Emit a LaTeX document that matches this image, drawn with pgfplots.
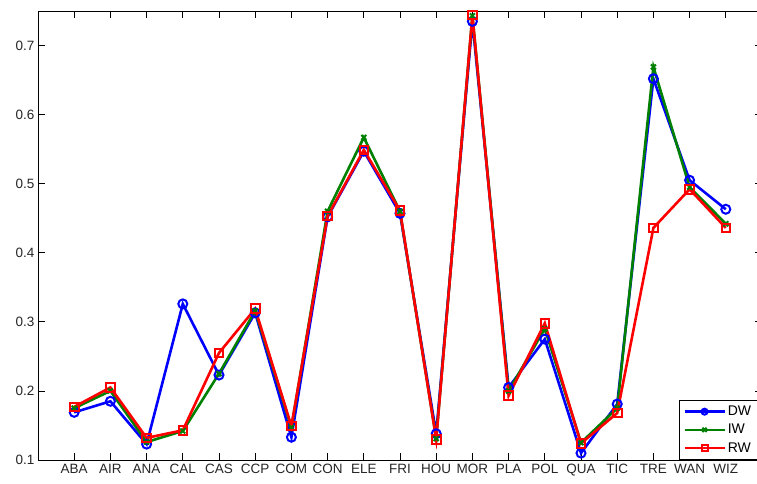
\documentclass[border=0pt]{standalone}
\usepackage{fontspec}
\setmainfont{Liberation Sans}
\usepackage{pgfplots}
\pgfplotsset{compat=1.18}

\definecolor{mblue}{rgb}{0,0,1}
\definecolor{mgreen}{rgb}{0,0.5,0}
\definecolor{mred}{rgb}{1,0,0}

\begin{document}
\begin{tikzpicture}
\path[use as bounding box] (-38pt,-23pt) rectangle (719pt,460pt);
\begin{axis}[
    scale only axis,
    width=724pt,
    height=449pt,
    xmin=0, xmax=20,
    ymin=0.1, ymax=0.75,
    xtick={1,...,19},
    xticklabels={ABA,AIR,ANA,CAL,CAS,CCP,COM,CON,ELE,FRI,HOU,MOR,PLA,POL,QUA,TIC,TRE,WAN,WIZ},
    ytick={0.1,0.2,...,0.7},
    yticklabel style={/pgf/number format/fixed,/pgf/number format/precision=1},
    /pgf/number format/assume math mode=true,
    tick align=inside,
    major tick length=7pt,
    tick style={black, line width=0.8pt},
    axis line style={black, line width=1pt},
    tick label style={font=\fontsize{13.5}{15}\selectfont, text=black!85},
    xticklabel style={yshift=-1pt},
    legend style={at={(axis cs:17.7,0.1)}, anchor=south west,
        font=\fontsize{14}{16}\selectfont, draw=black, line width=1pt,
        inner sep=4pt, row sep=3pt},
    legend cell align=left,
    legend image code/.code={\draw[#1] (0pt,0pt) -- (40pt,0pt) plot[mark size=3pt] coordinates {(20pt,0pt)};},
    every axis plot/.append style={line width=2.6pt},
]
\addplot[mblue, mark=o, mark size=4.5pt, mark options={line width=2pt}] coordinates {
(1,0.169) (2,0.185) (3,0.123) (4,0.326) (5,0.223) (6,0.313) (7,0.133)
(8,0.452) (9,0.547) (10,0.457) (11,0.138) (12,0.735) (13,0.205) (14,0.275)
(15,0.110) (16,0.181) (17,0.652) (18,0.505) (19,0.463)};
\addplot[mgreen, mark=x, mark size=3.5pt, mark options={line width=2pt}] coordinates {
(1,0.175) (2,0.200) (3,0.126) (4,0.142) (5,0.225) (6,0.316) (7,0.147)
(8,0.460) (9,0.567) (10,0.460) (11,0.131) (12,0.743) (13,0.200) (14,0.290)
(15,0.125) (16,0.175) (17,0.669) (18,0.495) (19,0.442)};
\addplot[mred, mark=square, mark size=4.3pt, mark options={line width=2pt}] coordinates {
(1,0.177) (2,0.205) (3,0.132) (4,0.143) (5,0.255) (6,0.319) (7,0.149)
(8,0.453) (9,0.549) (10,0.461) (11,0.130) (12,0.744) (13,0.193) (14,0.298)
(15,0.124) (16,0.168) (17,0.436) (18,0.492) (19,0.436)};
\legend{DW,IW,RW}
\end{axis}
\end{tikzpicture}
\end{document}
